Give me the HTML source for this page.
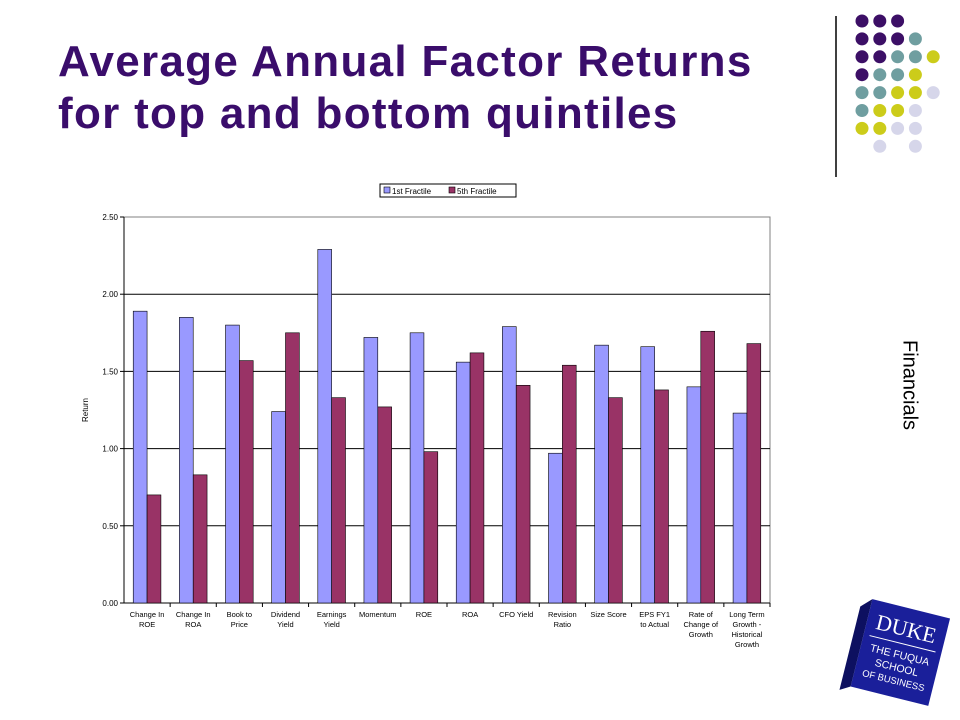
<!DOCTYPE html>
<html><head><meta charset="utf-8"><style>
body{margin:0;width:960px;height:720px;background:#fff;overflow:hidden;position:relative;font-family:"Liberation Sans",sans-serif}
#title{position:absolute;left:58px;top:36px;font-size:44px;letter-spacing:1.3px;font-weight:bold;color:#3a0d6b;line-height:52px;white-space:nowrap}
#side{position:absolute;left:909px;top:385px;transform:translate(-50%,-50%) rotate(90deg);font-size:20px;color:#000;white-space:nowrap}
</style></head><body>
<div id="title">Average Annual Factor Returns<br>for top and bottom quintiles</div>
<div id="side">Financials</div>
<svg id="deco" width="960" height="720" style="position:absolute;left:0;top:0">
<line x1="836" y1="16" x2="836" y2="177" stroke="#000" stroke-width="1.5"/>
</svg>
<svg id="chart" width="960" height="720" style="position:absolute;left:0;top:0"></svg>
<svg width="130" height="130" style="position:absolute;left:830px;top:580px">
<g transform="rotate(14 65 65)">
<rect x="32" y="26" width="80" height="90" fill="#1a1f9a"/>
<polygon points="32,26 22,36 22,122 32,116" fill="#0d1060"/>
<text x="72" y="54" fill="#fff" font-size="22" text-anchor="middle" font-family="Liberation Serif">DUKE</text>
<line x1="38" y1="62" x2="106" y2="62" stroke="#fff"/>
<text x="72" y="77" fill="#fff" font-size="10.5" text-anchor="middle">THE FUQUA</text>
<text x="72" y="90" fill="#fff" font-size="10.5" text-anchor="middle">SCHOOL</text>
<text x="72" y="103" fill="#fff" font-size="9.5" text-anchor="middle">OF BUSINESS</text>
</g></svg>
<script>
const categories=[["Change In","ROE"],["Change In","ROA"],["Book to","Price"],["Dividend","Yield"],["Earnings","Yield"],["Momentum"],["ROE"],["ROA"],["CFO Yield"],["Revision","Ratio"],["Size Score"],["EPS FY1","to Actual"],["Rate of","Change of","Growth"],["Long Term","Growth -","Historical","Growth"]];
const first=[1.89,1.85,1.80,1.24,2.29,1.72,1.75,1.56,1.79,0.97,1.67,1.66,1.40,1.23];
const fifth=[0.70,0.83,1.57,1.75,1.33,1.27,0.98,1.62,1.41,1.54,1.33,1.38,1.76,1.68];
const ticks=[0,0.5,1.0,1.5,2.0,2.5];
const NS="http://www.w3.org/2000/svg";
const svg=document.getElementById('chart');
const X0=124,X1=770,Y0=603,Y1=217,MAX=2.5;
const y=v=>Y0-(v/MAX)*(Y0-Y1);
const cw=(X1-X0)/categories.length;
const x=i=>X0+i*cw;
function mk(t,a){const e=document.createElementNS(NS,t);for(const k in a)e.setAttribute(k,a[k]);svg.appendChild(e);return e;}
const pa=mk('rect',{x:X0,y:Y1,width:X1-X0,height:Y0-Y1,fill:'#fff',stroke:'#808080'});


ticks.forEach(t=>{
 if(t>0&&t<MAX){const g=mk('line',{x1:X0,x2:X1,y1:y(t),y2:y(t),stroke:'#000'});
 
 }
 const tk=mk('line',{x1:X0-4,x2:X0,y1:y(t),y2:y(t),stroke:'#000'});
 
 
 const l=mk('text',{x:X0-6,y:y(t)+3,'font-size':8,'text-anchor':'end'});l.textContent=t.toFixed(2);
 
 
});
const ax=mk('line',{x1:X0,x2:X0,y1:Y1,y2:Y0,stroke:'#000'});


const xa=mk('line',{x1:X0,x2:X1,y1:Y0,y2:Y0,stroke:'#000'});


const yt=mk('text',{x:88,y:410,'font-size':8,'text-anchor':'middle',transform:'rotate(-90 88 410)'});yt.textContent='Return';


const bw=cw*0.3;
categories.forEach((c,i)=>{
 const b1=mk('rect',{x:x(i)+cw*0.2,y:y(first[i]),width:bw,height:Y0-y(first[i]),fill:'#9999ff',stroke:'#000','stroke-width':0.6});
 
 
 const b2=mk('rect',{x:x(i)+cw*0.2+bw,y:y(fifth[i]),width:bw,height:Y0-y(fifth[i]),fill:'#993366',stroke:'#000','stroke-width':0.6});
 
 
 const tk=mk('line',{x1:x(i+1),x2:x(i+1),y1:Y0,y2:Y0+4,stroke:'#000'});
 
 
 c.forEach((s,j)=>{const t=mk('text',{x:x(i)+cw/2,y:Y0+14+j*10,'font-size':7.5,'text-anchor':'middle'});t.textContent=s;
 
 });
});
const lg=mk('rect',{x:380,y:184,width:136,height:13,fill:'#fff',stroke:'#000'});


[['#9999ff','1st Fractile',384],['#993366','5th Fractile',449]].forEach(d=>{
 const s=mk('rect',{x:d[2],y:187,width:6,height:6,fill:d[0],stroke:'#000','stroke-width':0.6});
 
 
 const t=mk('text',{x:d[2]+8,y:194,'font-size':8});t.textContent=d[1];
 
 
});
const grid=["PPP..","PPPT.","PPTTY","PTTY.","TTYYL","TYYL.","YYLL.",".L.L."];
const col={P:'#3c0f66',T:'#6f9ea0',Y:'#cccc1a',L:'#d6d6ea'};
const deco=document.getElementById('deco');
grid.forEach((r,ri)=>[...r].forEach((ch,ci)=>{if(ch==='.')return;
 const c=document.createElementNS(NS,'circle');
 c.setAttribute('cx',862+ci*17.8);c.setAttribute('cy',21+ri*17.9);c.setAttribute('r',6.5);c.setAttribute('fill',col[ch]);
 
 
 deco.appendChild(c);}));
</script>
</body></html>
